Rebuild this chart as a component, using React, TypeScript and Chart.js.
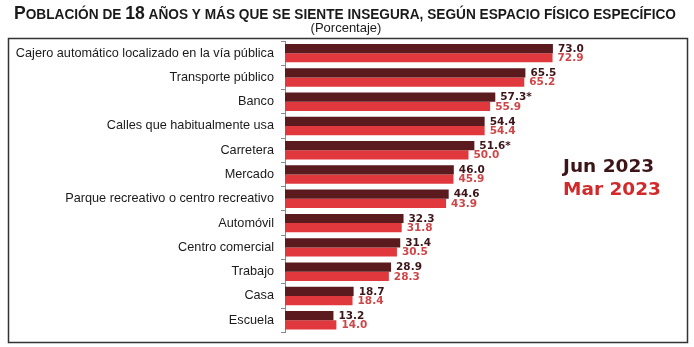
import React, { useEffect, useRef } from "react";
import { Chart, registerables } from "chart.js";

Chart.register(...registerables);

const categories = [
  "Cajero automático localizado en la vía pública",
  "Transporte público",
  "Banco",
  "Calles que habitualmente usa",
  "Carretera",
  "Mercado",
  "Parque recreativo o centro recreativo",
  "Automóvil",
  "Centro comercial",
  "Trabajo",
  "Casa",
  "Escuela",
];
const jun2023 = [73.0, 65.5, 57.3, 54.4, 51.6, 46.0, 44.6, 32.3, 31.4, 28.9, 18.7, 13.2];
const mar2023 = [72.9, 65.2, 55.9, 54.4, 50.0, 45.9, 43.9, 31.8, 30.5, 28.3, 18.4, 14.0];
const junMarks = ["", "", "*", "", "*", "", "", "", "", "", "", ""];
const marMarks = ["", "", "", "", "", "", "", "", "", "", "", ""];
const seriesNames = ["Jun 2023", "Mar 2023"];

const DARK = "#5a1a1e";
const RED = "#e0383c";
const DARK_TXT = "#3d1518";
const RED_TXT = "#cf4648";

const decorPlugin = {
  id: "decor",
  beforeDraw(chart: any) {
    const ctx = chart.ctx;
    ctx.save();
    ctx.fillStyle = "#ffffff";
    ctx.fillRect(0, 0, chart.width, chart.height);
    ctx.strokeStyle = "#333333";
    ctx.lineWidth = 1.5;
    ctx.strokeRect(8.5, 38.5, 679, 304);
    const segs = [
      { t: "P", big: true },
      { t: "OBLACIÓN DE ", big: false },
      { t: "18", big: true },
      { t: " AÑOS Y MÁS QUE SE SIENTE INSEGURA, SEGÚN ESPACIO FÍSICO ESPECÍFICO", big: false },
    ];
    const fam = "'Liberation Sans Narrow', 'Liberation Sans', Arial, sans-serif";
    const bigF = "bold 18px " + fam;
    const smallF = "bold 14px " + fam;
    let total = 0;
    for (const s of segs) {
      ctx.font = s.big ? bigF : smallF;
      total += ctx.measureText(s.t).width;
    }
    const sx = 662 / total;
    ctx.save();
    ctx.translate(14, 0);
    ctx.scale(sx, 1);
    let x = 0;
    ctx.fillStyle = "#1a1a1a";
    ctx.textBaseline = "alphabetic";
    ctx.textAlign = "left";
    for (const s of segs) {
      ctx.font = s.big ? bigF : smallF;
      ctx.fillText(s.t, x, 19);
      x += ctx.measureText(s.t).width;
    }
    ctx.restore();
    ctx.font = "13px 'Liberation Sans', Arial, sans-serif";
    ctx.textAlign = "center";
    ctx.fillStyle = "#1a1a1a";
    ctx.fillText("(Porcentaje)", 346, 32);
    ctx.font = "bold 18.5px 'DejaVu Sans', Verdana, sans-serif";
    ctx.textAlign = "left";
    ctx.textBaseline = "middle";
    ctx.fillStyle = DARK_TXT;
    ctx.fillText(seriesNames[0], 563, 167);
    ctx.fillStyle = "#d2292b";
    ctx.fillText(seriesNames[1], 563, 190);
    ctx.restore();
  },
  afterDatasetsDraw(chart: any) {
    const ctx = chart.ctx;
    ctx.save();
    ctx.font = "bold 10.5px 'DejaVu Sans', Verdana, sans-serif";
    ctx.textBaseline = "middle";
    ctx.textAlign = "left";
    const marks = [junMarks, marMarks];
    const colors = [DARK_TXT, RED_TXT];
    chart.data.datasets.forEach((ds: any, i: number) => {
      const meta = chart.getDatasetMeta(i);
      ctx.fillStyle = colors[i];
      meta.data.forEach((bar: any, j: number) => {
        const v = ds.data[j] as number;
        ctx.fillText(v.toFixed(1) + marks[i][j], bar.x + 5, bar.y + 0.5);
      });
    });
    ctx.restore();
  },
};

export default function App() {
  const ref = useRef<HTMLCanvasElement>(null);
  useEffect(() => {
    if (!ref.current) return;
    const chart = new Chart(ref.current, {
      type: "bar",
      data: {
        labels: categories,
        datasets: [
          { label: seriesNames[0], data: jun2023, backgroundColor: DARK, categoryPercentage: 0.76, barPercentage: 1 },
          { label: seriesNames[1], data: mar2023, backgroundColor: RED, categoryPercentage: 0.76, barPercentage: 1 },
        ],
      },
      options: {
        indexAxis: "y",
        responsive: false,
        animation: false,
        devicePixelRatio: 1,
        layout: { padding: { left: 0, right: 42, top: 41, bottom: 6 } },
        plugins: { legend: { display: false }, tooltip: { enabled: false }, title: { display: false } },
        scales: {
          x: { display: false, min: 0, max: 100 },
          y: {
            afterFit: (scale: any) => {
              scale.width = 285;
            },
            grid: { display: true, drawOnChartArea: false, tickLength: 4, offset: true, color: "#8a8a8a" },
            border: { display: true, color: "#8a8a8a" },
            ticks: {
              color: "#1a1a1a",
              padding: 7,
              font: { family: "'Liberation Sans', Arial, sans-serif", size: 12.7 },
            },
          },
        },
      },
      plugins: [decorPlugin],
    });
    return () => chart.destroy();
  }, []);
  return (
    <div style={{ position: "fixed", left: 0, top: 0, width: 694, height: 347, background: "#fff" }}>
      <canvas ref={ref} width={694} height={347} style={{ display: "block" }} />
    </div>
  );
}
